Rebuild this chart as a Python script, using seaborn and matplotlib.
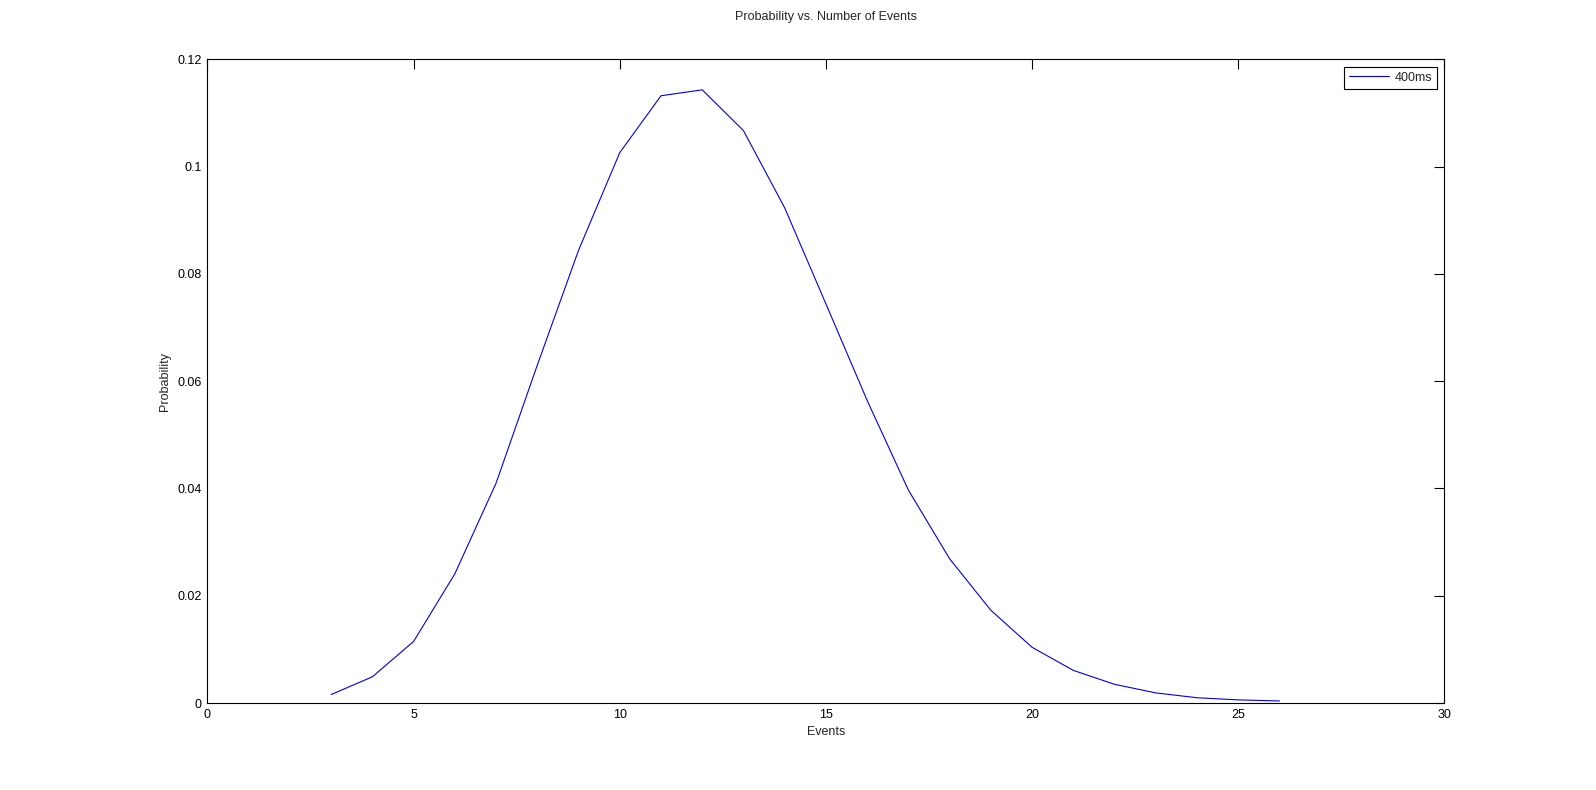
import numpy as np
import pandas as pd
import seaborn as sns
import matplotlib.pyplot as plt
from matplotlib.ticker import FormatStrFormatter

events = [3, 4, 5, 6, 7, 8, 9, 10, 11, 12, 13, 14, 15, 16, 17, 18, 19, 20, 21, 22, 23, 24, 25, 26]
probability = [0.0016, 0.0049, 0.0115, 0.0241, 0.0410, 0.0630, 0.0844, 0.1026, 0.1132, 0.1143,
               0.1067, 0.0923, 0.0744, 0.0564, 0.0397, 0.0269, 0.0173, 0.0104, 0.0061, 0.0035,
               0.0019, 0.0010, 0.0006, 0.0004]
series_name = '400ms'

df = pd.DataFrame({'Events': events, 'Probability': probability})

sns.set_style('white')
plt.rcParams['font.family'] = ['Liberation Sans', 'DejaVu Sans']

fig = plt.figure(figsize=(15.96, 7.9), dpi=100)
ax = fig.add_axes([0.13, 0.11, 0.775, 0.815])
sns.lineplot(x='Events', y='Probability', data=df, color='#0000e6', linewidth=0.8,
             label=series_name, ax=ax)

ax.set_xlim(0, 30)
ax.set_ylim(0, 0.12)
ax.set_xticks(range(0, 31, 5))
ax.set_yticks(np.arange(0, 0.121, 0.02))
ax.yaxis.set_major_formatter(FormatStrFormatter('%g'))
ax.tick_params(direction='in', length=7, width=0.8, top=True, right=True,
               labelsize=9, colors='black', pad=4)
for s in ax.spines.values():
    s.set_visible(True)
    s.set_color('black')
    s.set_linewidth(0.8)

# title sits well above the axes, like the matlab figure
ax.set_title('Probability vs. Number of Events', fontsize=9, pad=28)
ax.set_xlabel('Events', fontsize=9, labelpad=4)
ax.set_ylabel('Probability', fontsize=9, labelpad=4.5)

leg = ax.legend(loc='upper right', fontsize=9, fancybox=False, framealpha=1,
                edgecolor='black', handlelength=3.2, borderaxespad=0.6,
                borderpad=0.4, handletextpad=0.4)
leg.get_frame().set_linewidth(0.8)

plt.savefig('out.png', dpi=100, facecolor='white')
